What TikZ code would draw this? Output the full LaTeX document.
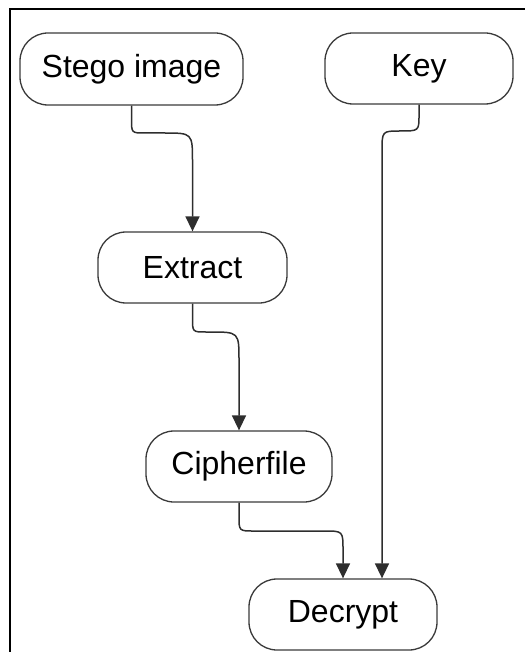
\documentclass[tikz,border=0pt]{standalone}
\usepackage{fontspec}
\setmainfont{Liberation Sans}
\usetikzlibrary{arrows.meta}
\definecolor{edgegray}{HTML}{2E2E2E}
\definecolor{boxgray}{HTML}{3A3A3A}
\begin{document}
\begin{tikzpicture}[x=1pt,y=-1pt,
  box/.style={draw=boxgray,line width=1.3pt,rounded corners=28pt,inner sep=0pt,
    font=\fontsize{32}{38}\selectfont,minimum height=71pt},
  conn/.style={draw=edgegray,line width=1.5pt,-{Triangle[length=15pt,width=14pt]}}]
\useasboundingbox (0,0) rectangle (524,652);
\draw[line width=2.5pt,black] (10,9) rectangle (560,690);
\node[box,minimum width=223pt,minimum height=72pt] (stego) at (131.5,69) {Stego image};
\node[box,minimum width=188pt] (key) at (419,68.5) {Key};
\node[box,minimum width=189pt] (extract) at (192.5,267.5) {Extract};
\node[box,minimum width=186pt] (cipher) at (239,466.5) {Cipherfile};
\node[box,minimum width=188pt] (decrypt) at (343,614.5) {Decrypt};
\coordinate (kd) at (382,152);
\path[conn] (stego.south) -- (131.5,119) .. controls (131.5,133) .. (145,133) -- (164,133)
  .. controls (192.5,133) .. (192.5,162) -- (extract.north);
\path[conn] (extract.south) -- (192.5,318) .. controls (192.5,332) .. (206,332) -- (210,332)
  .. controls (239,332) .. (239,361) -- (cipher.north);
\path[conn] (cipher.south) -- (239,516) .. controls (239,531) .. (254,531) -- (324,531)
  .. controls (343,531) .. (343,550) -- (decrypt.north);
\path[conn] (key.south) -- (419,115) .. controls (419,131) .. (400,131)
  .. controls (382,131) .. (kd) -- (kd |- decrypt.north);
\end{tikzpicture}
\end{document}
